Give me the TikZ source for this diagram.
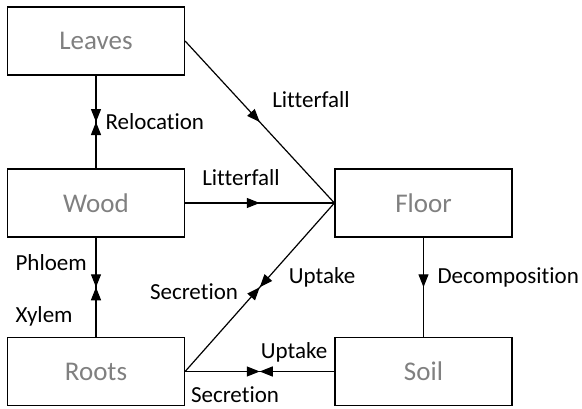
\documentclass[tikz,border=0pt]{standalone}
\usepackage{fontspec}
\setmainfont{Carlito}[Ligatures=NoCommon]
\usetikzlibrary{arrows.meta, decorations.markings}

\tikzset{
	pool/.style={draw, line width=1.2pt, minimum width=177pt, minimum height=68pt,
		inner sep=0pt, text=black!50, font=\fontsize{27}{32}\selectfont},
	flow/.style={font=\fontsize{23}{28}\selectfont, inner sep=2pt},
	midtip/.style={postaction={decorate}, decoration={markings,
		mark=at position 0.5 with {\arrow{Triangle[length=13pt, width=10pt]}}}},
}

\begin{document}
\begin{tikzpicture}[x=1pt, y=-1pt, line width=1.2pt]

		\useasboundingbox (0,0) rectangle (582,408);

		% Pools
		\node[pool] (leaves) at (96, 41) {Leaves};
		\node[pool] (wood) at (96, 203) {Wood};
		\node[pool] (roots) at (96, 371.5) {Roots};
		\node[pool] (floor) at (423.5, 203) {Floor};
		\node[pool] (soil) at (423.5, 371.5) {Soil};

		% Leaves <-> Wood
		\draw[midtip] (leaves.south) -- (wood.north);
		\path[midtip] (wood.north) -- (leaves.south);
		\node[flow, anchor=west] (reloc) at (103, 122) {Relocation};

		% Wood <-> Roots
		\draw[midtip] (wood.south) -- (roots.north);
		\path[midtip] (roots.north) -- (wood.south);
		\node[flow, anchor=west] (phloem) at (13, 263) {Phloem};
		\node[flow, anchor=west] (xylem) at (13, 316) {Xylem};

		% Litterfall
		\draw[midtip] (leaves.east) -- (floor.west);
		\node[flow] (litleaves) at (311, 100) {Litterfall};
		\draw[midtip] (wood.east) -- (floor.west);
		\node[flow] (litwood) at (241, 178) {Litterfall};

		% Roots <-> Floor
		\draw[midtip] (floor.west) -- (roots.east);
		\path[midtip] (roots.east) -- (floor.west);
		\node[flow] (secfloor) at (194, 292) {Secretion};
		\node[flow] (upfloor) at (322, 277) {Uptake};

		% Floor -> Soil
		\draw[midtip] (floor.south) -- (soil.north);
		\node[flow, anchor=west] (decomp) at (435, 277) {Decomposition};

		% Roots <-> Soil
		\draw[midtip] (roots.east) -- (soil.west);
		\path[midtip] (soil.west) -- (roots.east);
		\node[flow] (upsoil) at (294, 352) {Uptake};
		\node[flow, inner sep=0pt] (secsoil) at (235, 395) {Secretion};

	\end{tikzpicture}
\end{document}
